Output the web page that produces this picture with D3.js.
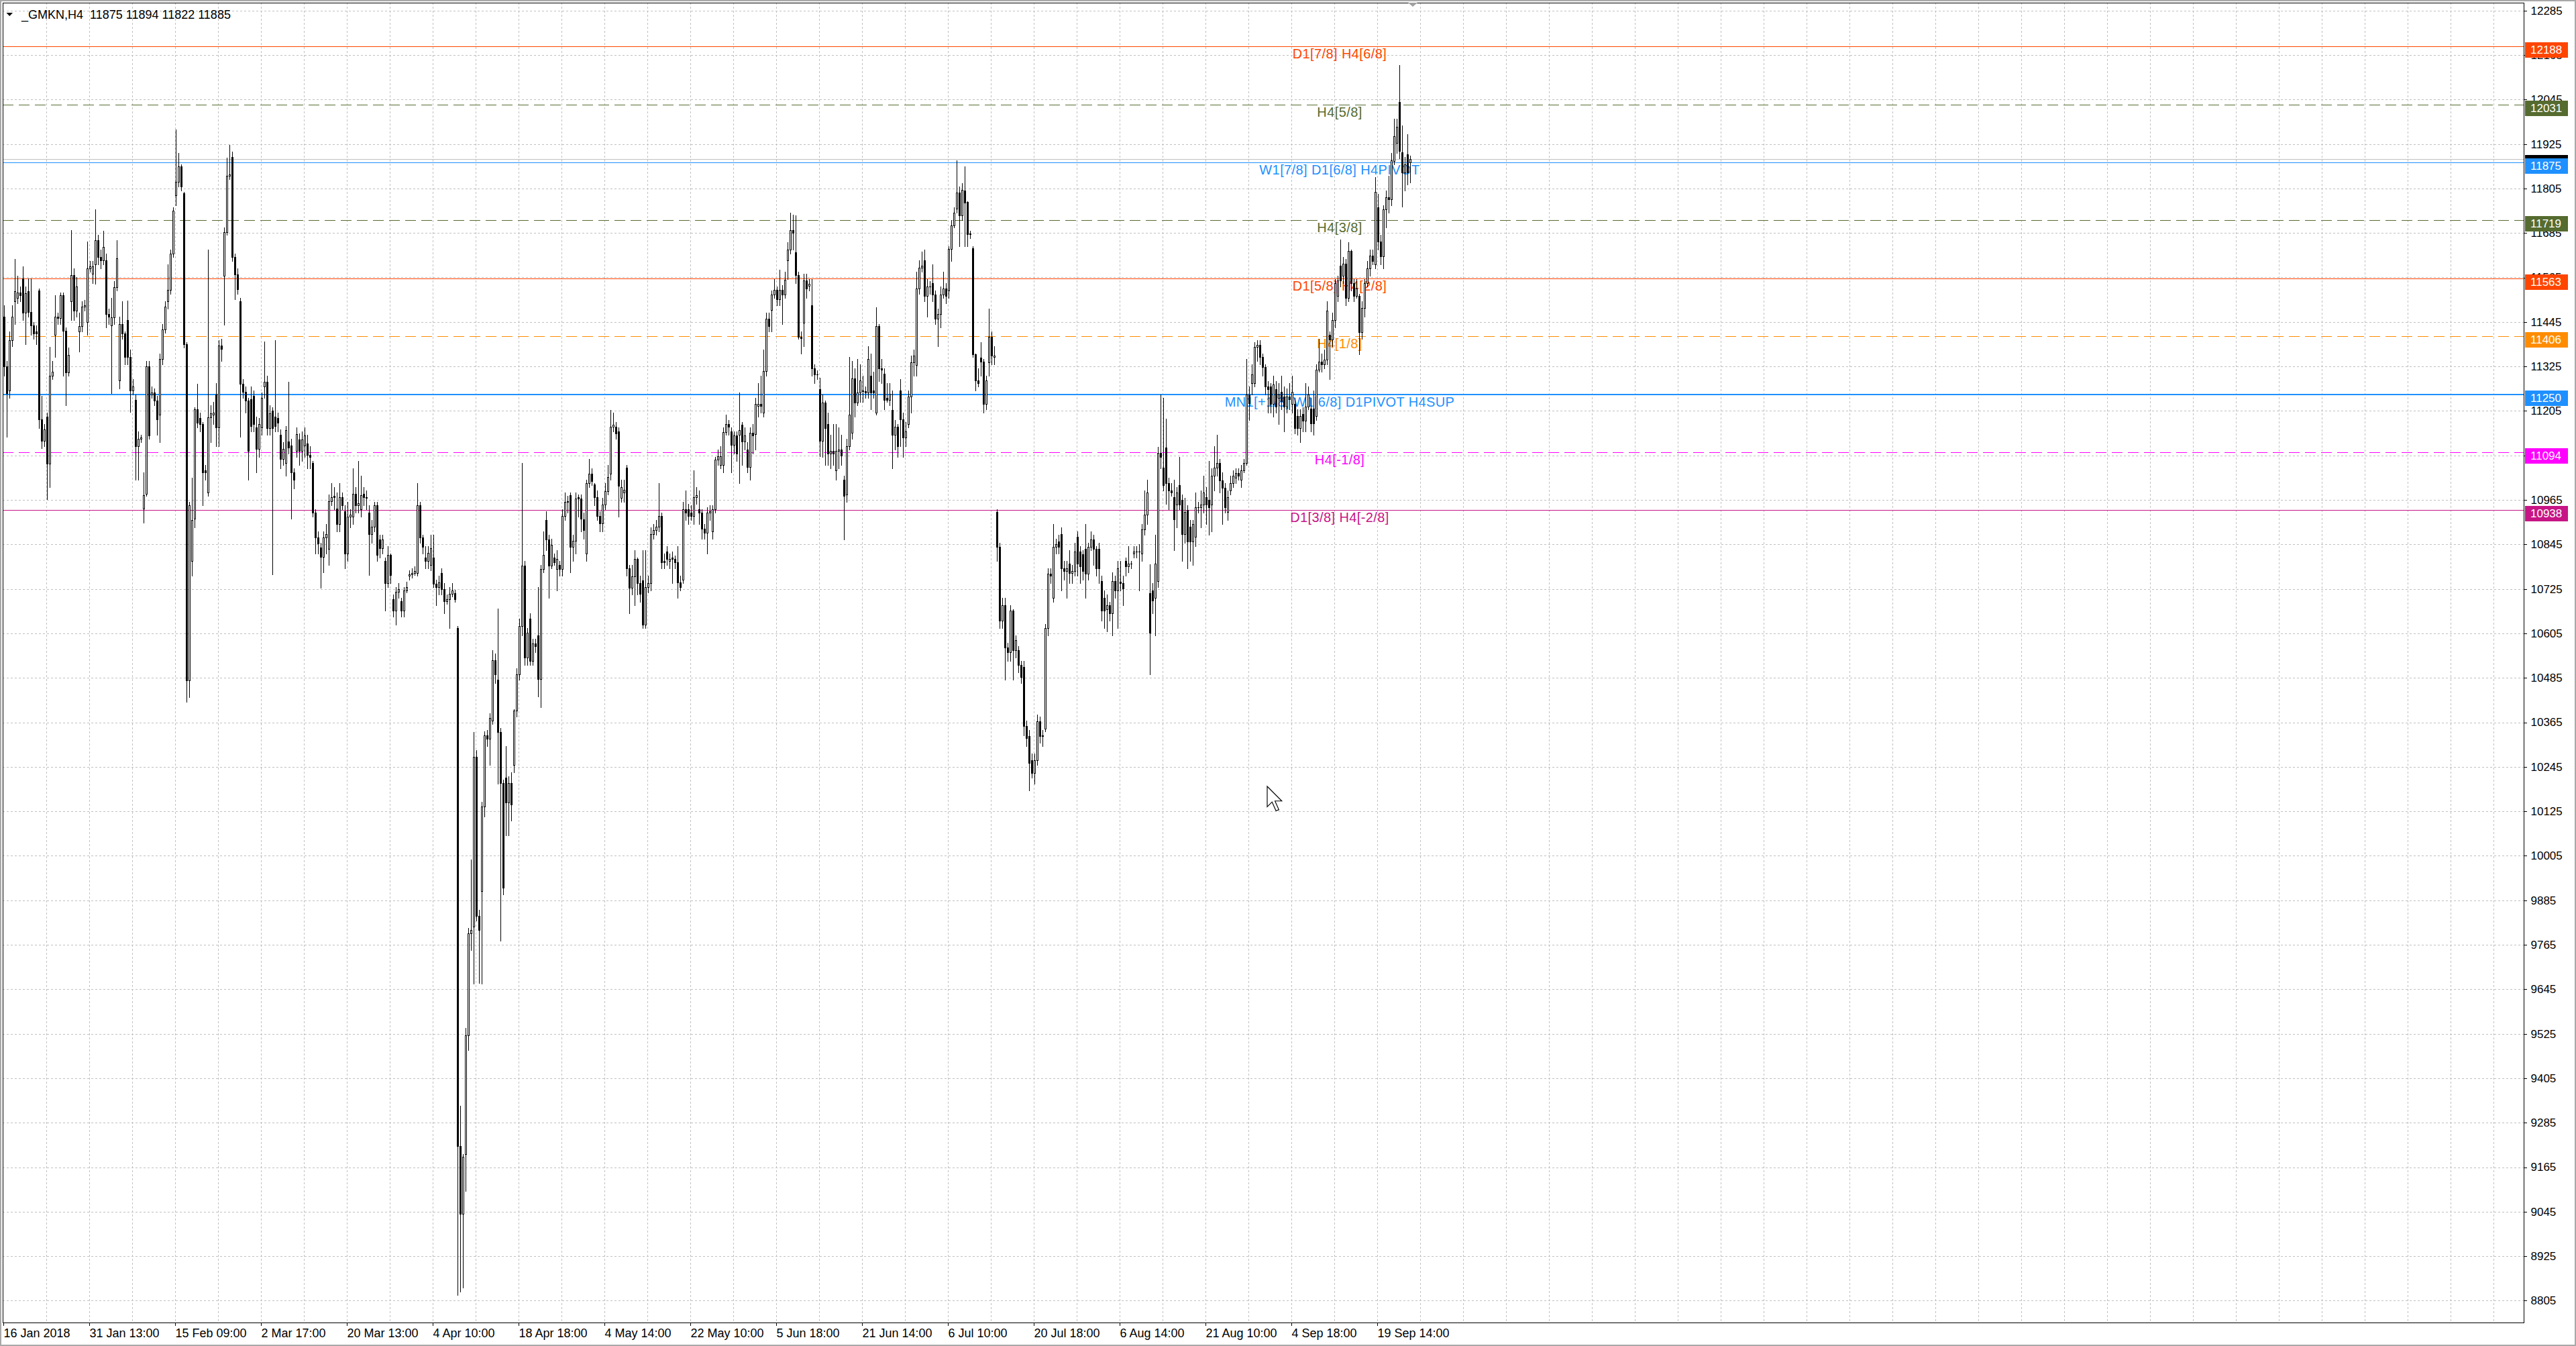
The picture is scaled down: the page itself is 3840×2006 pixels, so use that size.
<!DOCTYPE html>
<html>
<head>
<meta charset="utf-8">
<script src="https://cdn.jsdelivr.net/npm/d3@7"></script>
<style>
html, body { margin: 0; padding: 0; background: #fff; }
svg { display: block; }
text { font-family: "Liberation Sans", Arial, sans-serif; }
</style>
</head>
<body>
<div id="chart"></div>
<script>

var symbol = '_GMKN,H4';
var lastBar = [11875, 11894, 11822, 11885];
var currentPrice = 11885;

// H4 bars, one row = 10 bars
var opens = [
11460,11325,11260,11395,11500,11510,11525,11563,11470,11527,
11472,11435,11420,11530,11182,11125,11190,11063,11300,11410,
11460,11455,11517,11421,11309,11501,11572,11475,11420,11434,
11486,11444,11590,11575,11600,11665,11621,11612,11612,11467,
11435,11457,11538,11288,11440,11413,11450,11350,11260,11235,
11109,11130,10941,10982,11325,11250,11255,11232,11195,11345,
11424,11500,11532,11630,11787,11823,11865,11792,11385,10479,
10800,10915,11210,11185,11169,11045,10985,11188,11195,11250,
11160,11382,11569,11688,11840,11890,11621,11574,11500,11278,
11257,11232,11237,11245,11160,11102,11160,11270,11283,11159,
11205,11190,11185,11140,11076,11065,11122,11112,11039,11097,
11128,11097,11112,11117,11086,11065,10930,10863,10837,10811,
10863,10832,10962,10975,10941,10899,10972,10935,10821,10920,
10920,10982,10951,10940,10982,10972,10930,10873,10892,10950,
10858,10835,10800,10740,10816,10698,10667,10717,10692,10667,
10720,10760,10764,10768,10768,10950,10864,10810,10800,10790,
10810,10739,10730,10768,10724,10692,10698,10711,10713,10619,
9222,9040,9200,9520,9795,9813,10272,9842,9910,10138,
10329,10320,10370,10533,10480,10339,10202,10215,10148,10201,
10250,10396,10495,10625,10787,10539,10645,10530,10577,10600,
10482,10778,10911,10858,10787,10810,10778,10790,10778,10921,
10962,10978,10839,10854,10972,10969,10912,10820,11011,11035,
11006,10972,10921,10902,10953,10988,11035,11163,11163,11150,
10970,10985,11052,10781,10727,10758,10806,10740,10748,10629,
10730,10740,10873,10883,10892,10921,10800,10825,10800,10810,
10806,10797,10743,10750,10940,10940,10930,10921,10972,10940,
10930,10888,10877,10930,10880,10940,11073,11060,11060,11148,
11170,11150,11114,11138,11140,11168,11122,11100,11053,11146,
11142,11219,11223,11200,11312,11454,11478,11519,11531,11506,
11531,11519,11612,11640,11693,11632,11571,11405,11442,11557,
11543,11490,11320,11304,11264,11124,11227,11170,11089,11097,
11045,11097,11101,11020,10980,11110,11146,11292,11227,11255,
11260,11259,11255,11300,11260,11200,11434,11320,11305,11241,
11235,11207,11140,11162,11260,11183,11134,11170,11243,11336,
11328,11535,11592,11612,11515,11540,11550,11519,11454,11466,
11519,11535,11530,11642,11705,11750,11794,11733,11800,11768,
11683,11644,11357,11288,11348,11337,11223,11336,11405,11350,
10932,10839,10640,10680,10567,10554,10666,10560,10560,10520,
10514,10355,10328,10262,10228,10262,10368,10330,10348,10620,
10766,10700,10839,10852,10872,10780,10773,10793,10767,10773,
10866,10826,10819,10832,10766,10839,10859,10832,10832,10746,
10700,10670,10680,10660,10746,10720,10745,10740,10800,10786,
10793,10820,10826,10826,10820,10886,10926,10713,10720,10700,
10746,11091,11052,11107,11011,10990,10972,10952,11005,10965,
10872,10938,10892,10852,10865,10945,10945,10952,10972,10965,
10952,11031,11051,11065,11018,10998,10932,10990,11011,11025,
11038,11020,11045,11065,11250,11280,11280,11377,11383,11350,
11324,11271,11271,11224,11264,11240,11257,11244,11217,11244,
11224,11224,11191,11158,11197,11178,11217,11211,11211,11191,
11317,11337,11330,11344,11410,11397,11450,11515,11596,11570,
11603,11510,11636,11550,11515,11515,11417,11483,11550,11590,
11623,11600,11755,11662,11622,11748,11782,11775,11879,11928,
12038,11902,11848,11898,11875
];

var highs = [
11490,11340,11420,11490,11615,11570,11540,11595,11540,11563,
11563,11445,11435,11535,11245,11170,11200,11377,11340,11517,
11470,11525,11525,11430,11375,11692,11590,11565,11470,11500,
11505,11661,11610,11610,11748,11680,11640,11690,11630,11480,
11510,11555,11665,11460,11500,11420,11503,11370,11290,11250,
11150,11140,11040,11340,11340,11270,11265,11245,11360,11440,
11500,11600,11640,11755,11965,11900,11870,11795,11390,10960,
11024,11215,11278,11200,11175,11060,11640,11220,11230,11280,
11395,11400,11700,11888,11922,11905,11630,11590,11510,11290,
11270,11240,11270,11260,11190,11185,11255,11392,11300,11220,
11215,11395,11200,11155,11120,11165,11283,11130,11050,11160,
11145,11150,11160,11140,11110,11070,10940,10880,10850,10880,
10900,10980,11010,11000,10985,11010,10985,10950,10960,10940,
11050,11000,11070,11030,11000,10990,10950,10910,10960,10960,
10870,10870,10810,10840,10820,10710,10730,10740,10700,10730,
10745,10775,10780,10785,11011,10960,10870,10840,10840,10870,
10870,10750,10760,10780,10740,10710,10730,10740,10722,10625,
9330,9200,9540,9810,9995,10339,10290,9860,10150,10340,
10345,10390,10560,10550,10672,10350,10210,10300,10220,10230,
10400,10510,10645,11064,10800,10620,10660,10590,10590,10730,
10790,10880,10935,10870,10860,10820,10830,10800,10940,10985,
10975,10985,10870,10985,10980,10980,10930,11020,11075,11050,
11010,10990,10935,10970,11010,11060,11207,11200,11175,11160,
11020,11020,11060,10790,10790,10830,10810,10760,10830,10830,
10760,10890,10900,10910,11010,10930,10820,10840,10820,10825,
10815,10840,10760,10960,10990,10955,10950,11045,11000,10990,
10940,10900,10945,10950,10950,11080,11100,11110,11160,11195,
11180,11160,11150,11150,11255,11175,11160,11120,11160,11170,
11240,11280,11300,11370,11470,11470,11530,11560,11540,11586,
11545,11580,11660,11740,11735,11732,11580,11420,11575,11575,
11560,11560,11330,11315,11295,11250,11233,11200,11140,11170,
11170,11160,11140,11030,11130,11350,11340,11320,11345,11330,
11300,11270,11380,11360,11310,11485,11440,11345,11320,11280,
11280,11260,11180,11170,11290,11200,11175,11260,11355,11370,
11580,11612,11635,11640,11560,11555,11600,11530,11480,11540,
11580,11550,11650,11720,11755,11880,11810,11820,11865,11770,
11690,11650,11360,11320,11390,11345,11300,11480,11420,11380,
10940,10850,10700,10700,10580,10680,10670,10600,10570,10530,
10530,10370,10345,10280,10280,10385,10380,10345,10630,10780,
10780,10900,10860,10870,10890,10800,10800,10830,10790,10850,
10880,10840,10830,10900,10850,10880,10870,10840,10850,10760,
10720,10710,10690,10770,10760,10800,10800,10760,10810,10840,
10800,10840,10840,10845,10900,10990,11020,10792,10740,10870,
11108,11250,11240,11184,11025,11010,11020,11000,11080,10980,
10970,10950,10910,10910,10985,10960,10990,11030,11000,11070,
11050,11110,11140,11075,11040,11010,10990,11030,11045,11050,
11050,11060,11075,11345,11270,11330,11390,11395,11395,11360,
11330,11285,11280,11300,11285,11280,11300,11270,11265,11280,
11300,11240,11210,11210,11215,11280,11270,11240,11260,11330,
11400,11360,11370,11500,11420,11470,11560,11570,11668,11620,
11615,11660,11640,11560,11560,11520,11500,11560,11610,11640,
11640,11835,11790,11680,11760,11800,11840,11900,11993,11993,
12138,11975,11890,11951,11894
];

var lows = [
11300,11135,11240,11380,11440,11495,11500,11450,11385,11460,
11410,11400,11385,11158,11105,11110,10967,11000,11290,11350,
11440,11440,11300,11220,11300,11450,11450,11460,11365,11420,
11475,11410,11580,11550,11548,11600,11590,11600,11430,11440,
11252,11440,11530,11265,11400,11330,11330,11202,11250,11019,
11020,11120,10904,10975,11130,11240,11220,11140,11120,11330,
11415,11480,11520,11620,11760,11810,11800,11375,10420,10432,
10760,10890,11160,11150,10951,11020,10975,11120,11170,11110,
11110,11340,11437,11680,11830,11610,11507,11520,11135,11240,
11200,11019,11150,11150,11040,11080,11140,11240,11140,11140,
10764,11150,11150,11050,11060,11030,11090,10915,10995,11080,
11060,11070,11080,11050,11050,10920,10820,10820,10728,10770,
10820,10790,10950,10940,10880,10880,10940,10780,10800,10890,
10900,10930,10930,10920,10950,10940,10762,10850,10880,10800,
10810,10820,10667,10730,10740,10650,10629,10700,10650,10650,
10715,10750,10755,10762,10760,10850,10820,10780,10780,10775,
10730,10680,10710,10710,10660,10685,10619,10705,10690,8821,
8830,8840,9100,9480,9750,9660,9830,9661,9660,10110,
10300,10250,10360,10470,10200,9775,9900,10060,10060,10100,
10230,10380,10480,10600,10520,10520,10520,10520,10555,10435,
10405,10770,10830,10700,10780,10790,10720,10760,10760,10910,
10930,10770,10800,10820,10920,10880,10860,10800,11000,11005,
10950,10910,10880,10880,10940,10980,11020,11150,11130,10920,
10960,10960,10760,10660,10710,10680,10710,10690,10620,10620,
10715,10720,10860,10870,10880,10780,10780,10790,10780,10740,
10780,10700,10720,10740,10910,10900,10910,10900,10955,10900,
10860,10860,10820,10910,10860,10930,11060,11050,11040,11140,
11140,11040,11090,11070,11010,11060,11100,11040,11020,11090,
11100,11190,11200,11190,11300,11420,11420,11510,11490,11490,
11440,11510,11560,11630,11640,11550,11400,11360,11380,11510,
11530,11300,11280,11290,11082,11080,11060,11060,11050,11060,
11020,11050,11060,10858,10960,11100,11130,11190,11220,11230,
11230,11240,11240,11210,11240,11195,11285,11280,11210,11230,
11220,11050,11100,11080,11110,11080,11110,11160,11200,11300,
11300,11520,11580,11500,11460,11520,11500,11440,11380,11430,
11510,11495,11510,11610,11700,11740,11650,11720,11650,11650,
11670,11350,11260,11270,11300,11200,11210,11300,11330,11330,
10800,10620,10620,10480,10530,10530,10480,10540,10500,10470,
10330,10300,10182,10215,10200,10250,10310,10300,10340,10600,
10740,10690,10820,10820,10720,10750,10700,10740,10740,10760,
10760,10740,10750,10700,10750,10830,10790,10760,10740,10640,
10620,10610,10640,10600,10700,10620,10720,10680,10760,10770,
10780,10810,10810,10720,10800,10870,10900,10494,10660,10600,
10730,11050,10990,10955,10940,10975,10830,10890,10940,10800,
10850,10780,10800,10790,10840,10930,10890,10930,10900,10870,
10880,10990,11030,10985,10900,10930,10910,10980,11000,11010,
11020,11000,11040,11060,11180,11250,11270,11340,11330,11300,
11250,11200,11200,11190,11200,11170,11210,11150,11200,11210,
11200,11145,11140,11120,11150,11150,11210,11150,11140,11180,
11310,11310,11320,11330,11290,11380,11430,11500,11540,11550,
11490,11500,11530,11500,11510,11357,11400,11460,11540,11570,
11600,11590,11640,11600,11590,11700,11740,11760,11870,11900,
11886,11756,11800,11815,11822
];

var closes = [
11325,11252,11395,11460,11527,11525,11517,11470,11522,11472,
11435,11413,11413,11182,11125,11155,11063,11300,11310,11460,
11455,11517,11421,11309,11356,11572,11475,11540,11434,11486,
11490,11590,11595,11595,11665,11621,11612,11647,11467,11460,
11457,11538,11617,11440,11413,11350,11350,11260,11271,11109,
11130,11133,10977,11325,11138,11255,11232,11182,11345,11424,
11486,11532,11630,11745,11823,11865,11811,11385,10479,10951,
10910,11210,11174,11169,11039,11039,11188,11198,11200,11160,
11382,11372,11688,11840,11843,11621,11574,11533,11278,11257,
11232,11097,11164,11170,11102,11169,11241,11283,11159,11198,
11159,11164,11174,11076,11102,11154,11107,11039,11019,11143,
11097,11128,11138,11086,11081,10930,10863,10847,10811,10863,
10873,10962,10972,10972,10899,10972,10951,10821,10920,10925,
10982,10951,10956,10977,10972,10970,10873,10892,10950,10816,
10835,10858,10740,10816,10762,10667,10717,10724,10667,10720,
10730,10764,10768,10774,10950,10864,10839,10800,10822,10835,
10739,10730,10743,10724,10692,10698,10711,10720,10698,9222,
9040,9193,9520,9795,9804,10272,9842,9804,10138,10329,
10320,10377,10533,10495,10339,10202,9918,10148,10201,10144,
10396,10495,10625,10787,10539,10606,10530,10577,10571,10482,
10778,10816,10858,10787,10844,10797,10806,10778,10921,10959,
10959,10839,10854,10969,10969,10915,10883,11011,11035,11016,
10972,10921,10902,10953,10988,11026,11163,11167,11144,11003,
11000,10993,10781,10727,10758,10806,10740,10711,10629,10730,
10740,10873,10883,10892,10921,10797,10797,10806,10806,10806,
10797,10743,10730,10940,10930,10921,10921,10972,10978,10930,
10888,10877,10930,10934,10940,11073,11083,11083,11148,11170,
11162,11114,11138,11089,11154,11122,11138,11053,11146,11138,
11223,11223,11219,11312,11454,11433,11519,11531,11506,11531,
11519,11559,11640,11693,11685,11571,11405,11401,11557,11535,
11547,11320,11304,11304,11124,11227,11158,11089,11097,11089,
11097,11101,11085,10976,11110,11195,11292,11227,11255,11288,
11259,11255,11345,11255,11254,11434,11320,11316,11235,11235,
11251,11140,11162,11110,11183,11134,11150,11243,11336,11354,
11535,11592,11597,11515,11540,11540,11519,11454,11466,11519,
11535,11515,11642,11705,11740,11794,11733,11802,11766,11681,
11681,11357,11288,11280,11338,11223,11288,11405,11354,11354,
10839,10640,10680,10567,10554,10666,10560,10587,10520,10487,
10355,10322,10255,10228,10262,10368,10328,10328,10620,10766,
10760,10839,10846,10839,10780,10773,10780,10767,10773,10826,
10793,10786,10773,10766,10839,10859,10832,10780,10780,10666,
10666,10680,10660,10746,10720,10780,10740,10726,10786,10793,
10793,10826,10826,10826,10886,10926,10985,10607,10693,10793,
11091,11080,11005,11011,10990,10985,10912,10985,10952,10872,
10932,10852,10852,10899,10945,10945,10952,10985,10952,10945,
11031,11051,11065,11018,10998,10945,10972,11011,11031,11038,
11031,11045,11065,11250,11225,11304,11377,11383,11350,11324,
11271,11264,11224,11277,11217,11250,11231,11217,11244,11237,
11257,11158,11158,11191,11178,11217,11250,11171,11171,11317,
11337,11330,11344,11476,11397,11450,11550,11556,11556,11603,
11510,11636,11550,11515,11535,11417,11483,11550,11590,11623,
11610,11795,11662,11622,11748,11782,11775,11880,11946,11971,
11906,11848,11870,11848,11885
];

var priceTicks = [12285, 12165, 12045, 11925, 11805, 11685, 11565, 11445, 11325, 11205,
    11085, 10965, 10845, 10725, 10605, 10485, 10365, 10245, 10125, 10005,
    9885, 9765, 9645, 9525, 9405, 9285, 9165, 9045, 8925, 8805];

var dateBars = [0, 32, 64, 96, 128, 160, 192, 224, 256, 288, 320, 352, 384, 416, 448, 480, 512];
var dateLabels = ['16 Jan 2018', '31 Jan 13:00', '15 Feb 09:00', '2 Mar 17:00', '20 Mar 13:00',
    '4 Apr 10:00', '18 Apr 18:00', '4 May 14:00', '22 May 10:00', '5 Jun 18:00', '21 Jun 14:00',
    '6 Jul 10:00', '20 Jul 18:00', '6 Aug 14:00', '21 Aug 10:00', '4 Sep 18:00', '19 Sep 14:00'];

var levelPrices = [12188, 12031, 11875, 11719, 11563, 11406, 11250, 11094, 10938];
var levelNames = ['D1[7/8] H4[6/8]', 'H4[5/8]', 'W1[7/8] D1[6/8] H4PIVOT', 'H4[3/8]',
    'D1[5/8] H4[2/8]', 'H4[1/8]', 'MN1[+1/8] W1[6/8] D1PIVOT H4SUP', 'H4[-1/8]', 'D1[3/8] H4[-2/8]'];


var width = 3840;
var height = 2006;
var plot = { left: 4, top: 4, right: 3762, bottom: 1971 };

// line look per level, same order as levelPrices
var levelStyle = [
    { color: '#ff4500', dash: null, w: 1 },
    { color: '#556b2f', dash: '16,8', w: 1 },
    { color: '#1e90ff', dash: null, w: 1 },
    { color: '#556b2f', dash: '16,8', w: 1 },
    { color: '#ff4500', dash: null, w: 1 },
    { color: '#ff8c00', dash: '16,8', w: 1 },
    { color: '#1e90ff', dash: null, w: 2 },
    { color: '#ff00ff', dash: '16,8', w: 1 },
    { color: '#c71585', dash: null, w: 1 }
];

var x = d3.scaleLinear().domain([0, 1]).range([5, 9]);
var y = d3.scaleLinear().domain([8805, 12285]).range([1938.4, 15.7]);

var svg = d3.select('#chart').append('svg')
    .attr('width', width)
    .attr('height', height)
    .attr('viewBox', '0 0 ' + width + ' ' + height);

svg.append('rect').attr('width', width).attr('height', height).attr('fill', '#fff');

svg.append('clipPath').attr('id', 'plotClip')
    .append('rect')
    .attr('x', plot.left).attr('y', plot.top)
    .attr('width', plot.right - plot.left).attr('height', plot.bottom - plot.top);

var grid = svg.append('g').attr('shape-rendering', 'crispEdges');

grid.selectAll('.hgrid')
    .data(priceTicks)
    .enter()
    .append('line')
    .attr('class', 'hgrid')
    .attr('x1', plot.left).attr('x2', plot.right)
    .attr('y1', function(d){ return Math.round(y(d)) + 0.5; })
    .attr('y2', function(d){ return Math.round(y(d)) + 0.5; })
    .attr('stroke', '#c0c0c0')
    .attr('stroke-dasharray', '3,3');

var gridBars = d3.range(16, 940, 16).filter(function(b){ return x(b) < plot.right - 2; });

grid.selectAll('.vgrid')
    .data(gridBars)
    .enter()
    .append('line')
    .attr('class', 'vgrid')
    .attr('x1', function(d){ return x(d) + 0.5; })
    .attr('x2', function(d){ return x(d) + 0.5; })
    .attr('y1', plot.top).attr('y2', plot.bottom)
    .attr('stroke', '#c0c0c0')
    .attr('stroke-dasharray', '3,3');

var chart = svg.append('g').attr('clip-path', 'url(#plotClip)');

// level lines and their captions
var levels = levelPrices.map(function(p, i){
    return { price: p, name: levelNames[i], style: levelStyle[i] };
});

chart.selectAll('.level')
    .data(levels)
    .enter()
    .append('line')
    .attr('class', 'level')
    .attr('shape-rendering', 'crispEdges')
    .attr('x1', plot.left).attr('x2', plot.right)
    .attr('y1', function(d){ return Math.round(y(d.price)) + (d.style.w === 1 ? 0.5 : 0); })
    .attr('y2', function(d){ return Math.round(y(d.price)) + (d.style.w === 1 ? 0.5 : 0); })
    .attr('stroke', function(d){ return d.style.color; })
    .attr('stroke-width', function(d){ return d.style.w; })
    .attr('stroke-dasharray', function(d){ return d.style.dash; });

chart.selectAll('.levelName')
    .data(levels)
    .enter()
    .append('text')
    .attr('class', 'levelName')
    .attr('x', x(498))
    .attr('y', function(d){ return y(d.price) + 18; })
    .attr('text-anchor', 'middle')
    .attr('font-size', '20px')
    .attr('letter-spacing', '0.4px')
    .attr('fill', function(d){ return d.style.color; })
    .text(function(d){ return d.name; });

chart.append('line')
    .attr('shape-rendering', 'crispEdges')
    .attr('x1', plot.left).attr('x2', plot.right)
    .attr('y1', Math.round(y(currentPrice)) + 0.5)
    .attr('y2', Math.round(y(currentPrice)) + 0.5)
    .attr('stroke', '#c0c0c0');

// candles
var bars = closes.map(function(c, i){
    return { i: i, o: opens[i], h: highs[i], l: lows[i], c: c };
});

var candle = chart.selectAll('.bar')
    .data(bars)
    .enter()
    .append('g')
    .attr('class', 'bar')
    .attr('shape-rendering', 'crispEdges');

candle.append('rect')
    .attr('x', function(d){ return x(d.i) + 1; })
    .attr('width', 1)
    .attr('y', function(d){ return Math.round(y(d.h)); })
    .attr('height', function(d){ return Math.max(1, Math.round(y(d.l)) - Math.round(y(d.h)) + 1); })
    .attr('fill', '#000');

var bodyTop = function(d){ return Math.round(y(Math.max(d.o, d.c))); };
var bodyH = function(d){ return Math.max(1, Math.round(y(Math.min(d.o, d.c))) - bodyTop(d) + 1); };

candle.append('rect')
    .attr('x', function(d){ return x(d.i); })
    .attr('width', 3)
    .attr('y', bodyTop)
    .attr('height', bodyH)
    .attr('fill', '#000');

candle.filter(function(d){ return d.c > d.o && bodyH(d) > 2; })
    .append('rect')
    .attr('x', function(d){ return x(d.i) + 1; })
    .attr('width', 1)
    .attr('y', function(d){ return bodyTop(d) + 1; })
    .attr('height', function(d){ return bodyH(d) - 2; })
    .attr('fill', '#fff');

// frame of the plot
var frame = svg.append('g').attr('shape-rendering', 'crispEdges').attr('stroke', '#000');
frame.append('line').attr('x1', plot.left + 0.5).attr('x2', plot.left + 0.5).attr('y1', plot.top).attr('y2', plot.bottom + 1);
frame.append('line').attr('x1', plot.right + 0.5).attr('x2', plot.right + 0.5).attr('y1', plot.top).attr('y2', plot.bottom + 1);
frame.append('line').attr('x1', plot.left).attr('x2', plot.right + 1).attr('y1', plot.top + 0.5).attr('y2', plot.top + 0.5);
frame.append('line').attr('x1', plot.left).attr('x2', plot.right + 1).attr('y1', plot.bottom + 0.5).attr('y2', plot.bottom + 0.5);

// price scale
var yAxis = d3.axisRight(y)
    .tickValues(priceTicks)
    .tickSize(4)
    .tickPadding(6)
    .tickFormat(d3.format('d'));

var yAxisG = svg.append('g')
    .attr('transform', 'translate(' + (plot.right + 0.5) + ',0)')
    .call(yAxis);
yAxisG.select('.domain').remove();
yAxisG.attr('font-family', null).attr('font-size', null);
yAxisG.selectAll('line').attr('stroke', '#000').attr('shape-rendering', 'crispEdges');
yAxisG.selectAll('text').attr('font-size', '17px').attr('fill', '#000');

// time scale
var xAxis = d3.axisBottom(x)
    .tickValues(dateBars)
    .tickSize(4)
    .tickPadding(5)
    .tickFormat(function(d, i){ return dateLabels[i]; });

var xAxisG = svg.append('g')
    .attr('transform', 'translate(0,' + (plot.bottom + 0.5) + ')')
    .call(xAxis);
xAxisG.select('.domain').remove();
xAxisG.attr('font-family', null).attr('font-size', null);
xAxisG.selectAll('line').attr('stroke', '#000').attr('shape-rendering', 'crispEdges');
xAxisG.selectAll('text')
    .attr('text-anchor', 'start')
    .attr('x', 0)
    .attr('font-size', '18px')
    .attr('fill', '#000');

// price tags on the right edge
var tag = function(price, color){
    var top = Math.round(y(price)) - 6;
    svg.append('rect')
        .attr('x', plot.right + 2).attr('y', top)
        .attr('width', 64).attr('height', 23)
        .attr('fill', color);
    svg.append('text')
        .attr('x', plot.right + 10).attr('y', top + 11.5)
        .attr('dy', '0.35em')
        .attr('font-size', '17px')
        .attr('fill', '#fff')
        .text(price);
};

tag(currentPrice, '#000');
levels.forEach(function(d){ tag(d.price, d.style.color); });

// header line
svg.append('path')
    .attr('d', 'M9.5,19 L19,19 L14.25,24 Z')
    .attr('fill', '#000');

svg.append('text')
    .attr('x', 32).attr('y', 28)
    .attr('font-size', '18px')
    .attr('fill', '#000')
    .style('white-space', 'pre')
    .text(symbol + '  ' + lastBar.join(' '));

// chart shift marker
svg.append('path')
    .attr('d', 'M2099,4 L2113,4 L2106,10 Z')
    .attr('fill', '#a0a0a0');

// mouse pointer left on the picture
svg.append('path')
    .attr('transform', 'translate(1889,1172) scale(1.45)')
    .attr('d', 'M0,0 L0,21 L5,16 L9,25 L12,24 L8,15 L15,15 Z')
    .attr('fill', '#fff')
    .attr('stroke', '#000')
    .attr('stroke-width', 0.8);

// window border
svg.append('rect')
    .attr('x', 1).attr('y', 1)
    .attr('width', width - 2).attr('height', height - 2)
    .attr('fill', 'none')
    .attr('stroke', '#a8a8a8')
    .attr('stroke-width', 2);

</script>
</body>
</html>
